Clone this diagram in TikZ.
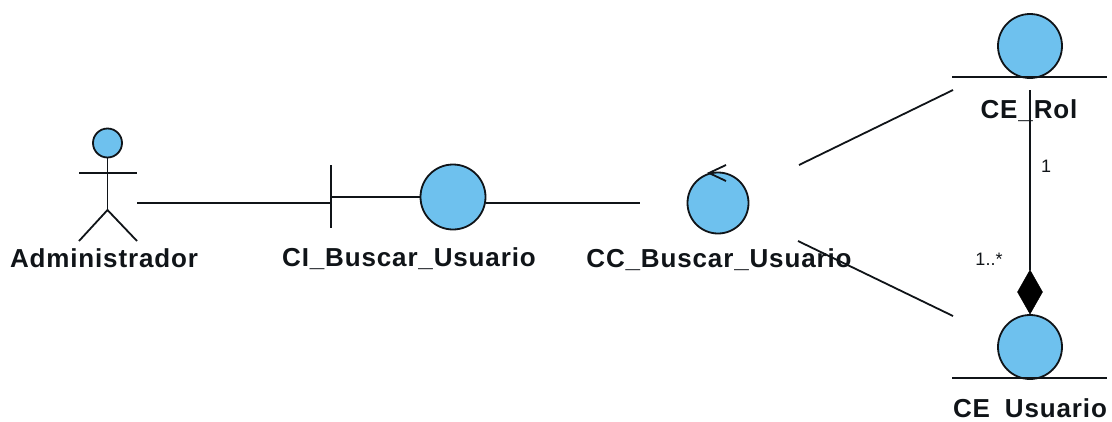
\documentclass[tikz,border=0pt]{standalone}
\usepackage{fontspec}
\setmainfont{Liberation Sans}
\newfontfamily\lblfont[LetterSpace=3.3]{Liberation Sans}
\usetikzlibrary{shapes.geometric}
\definecolor{ballblue}{HTML}{6EC1EE}
\definecolor{ink}{HTML}{101418}
\tikzset{
  ball/.style={circle,draw=ink,fill=ballblue,line width=1.8pt,inner sep=0pt,outer sep=0pt},
  wire/.style={draw=ink,line width=1.8pt},
  lbl/.style={font=\lblfont\bfseries\fontsize{26}{28}\selectfont,text=ink,inner sep=0pt,anchor=center},
  mult/.style={font=\fontsize{18}{20}\selectfont,text=ink,inner sep=0pt,anchor=center},
  compo/.style={diamond,aspect=0.55,fill=black,draw=black,inner sep=0pt,minimum width=25pt,minimum height=44pt,outer sep=0pt}
}
\begin{document}
\begin{tikzpicture}[x=1pt,y=-1pt]
\useasboundingbox (0,0) rectangle (1112,421);
% actor
\node[ball,minimum size=29pt] (head) at (107.5,143) {};
\coordinate (neck) at (107.5,210);
\coordinate (armL) at (79,173);
\coordinate (armR) at (137,173);
\coordinate (footL) at (79,241);
\coordinate (footR) at (137,241);
\draw[wire] (head.south) -- (neck);
\draw[wire] (armL) -- (armR);
\draw[wire] (footL) -- (neck) -- (footR);
\node[lbl] (actorlbl) at (104,258) {Administrador};
\coordinate (actorend) at (137,203);
% boundary
\node[ball,minimum size=65pt] (bball) at (453,197) {};
\coordinate (btop) at (331,165);
\coordinate (bbot) at (331,228);
\coordinate (bmid) at (331,197);
\coordinate (bin) at (331,203);
\draw[wire] (btop) -- (bbot);
\draw[wire] (bmid) -- (bball.west);
\draw[wire] (actorend) -- (bin);
\node[lbl] (blbl) at (409,259) {CI\_Buscar\_Usuario};
% control
\node[ball,minimum size=61pt] (cball) at (718,203) {};
\coordinate (cA) at (726,165);
\coordinate (cB) at (709,173);
\coordinate (cC) at (726,181);
\draw[wire] (cA) -- (cB) -- (cC);
\node[lbl] (clbl) at (719,260) {CC\_Buscar\_Usuario};
\coordinate (cin) at (640,203);
\coordinate (bout) at (486,203);
\draw[wire] (bout) -- (cin);
% entity Rol
\node[ball,minimum size=64pt] (rball) at (1030,46) {};
\coordinate (rL) at (952,77);
\coordinate (rR) at (1107,77);
\draw[wire] (rL) -- (rR);
\node[lbl] (rlbl) at (1029,111) {CE\_Rol};
% entity Usuario
\node[ball,minimum size=64pt] (uball) at (1030,347) {};
\coordinate (uL) at (952,378);
\coordinate (uR) at (1107,378);
\draw[wire] (uL) -- (uR);
\node[lbl] (ulbl) at (1030,408) {CE\hspace{15pt}Usuario};
% associations
\coordinate (c1) at (799,165);
\coordinate (r1) at (953,90);
\coordinate (c2) at (798,241);
\coordinate (u2) at (953,316);
\draw[wire] (c1) -- (r1);
\draw[wire] (c2) -- (u2);
\node[compo] (dia) at (1030,292) {};
\coordinate (rstub) at (1030,90);
\draw[wire] (rstub) -- (dia.north);
\node[mult] (m1) at (1046,166) {1};
\node[mult] (m2) at (989,259) {1..*};
\end{tikzpicture}
\end{document}
